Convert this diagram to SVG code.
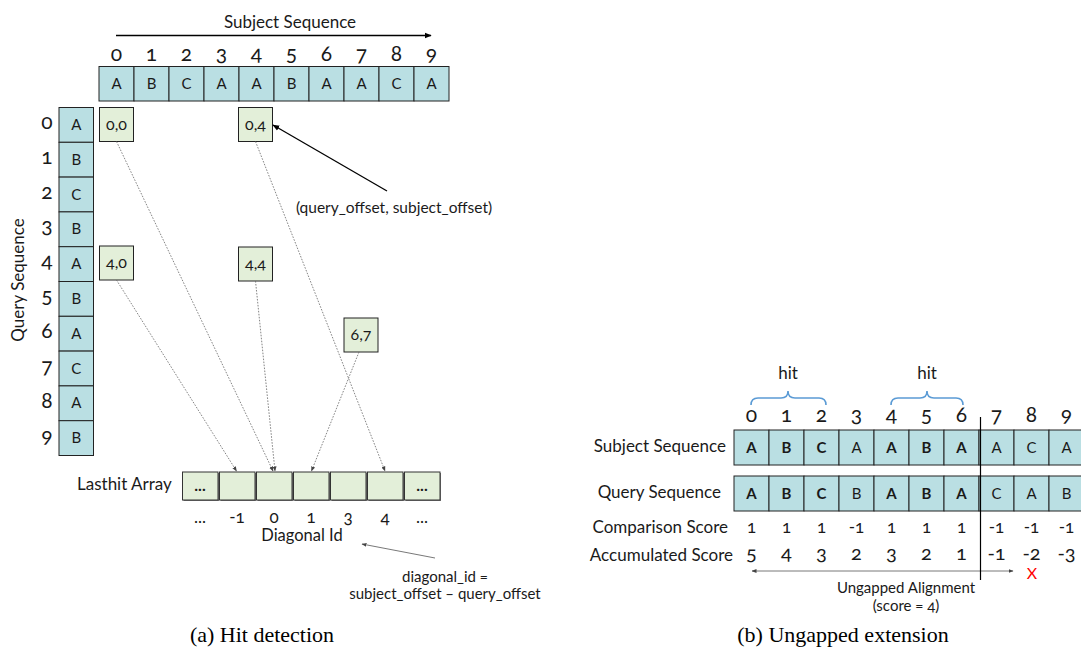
<svg xmlns="http://www.w3.org/2000/svg" width="1081" height="659" viewBox="0 0 1081 659">
  <style>
    .t { font-family: Lato, "Open Sans", "Liberation Sans", sans-serif; fill: #1a1a1a; font-variant-numeric: oldstyle-nums; }
    .cap { font-family: "Liberation Serif", "Times New Roman", serif; fill: #000; font-size: 22px; }
    .seq { fill: #badfe3; stroke: #222; stroke-width: 1; }
    .hitbox { fill: #e3efd9; stroke: #222; stroke-width: 1; }
    .cell { fill: #e3efd9; stroke: #333; stroke-width: 1; }
    .shadow { fill: #777; }
    .dot { stroke: #666; stroke-width: 0.8; stroke-dasharray: 1.6 1.4; fill: none; }
    .solid { stroke: #000; stroke-width: 1.3; fill: none; }
    .thin { stroke: #555; stroke-width: 0.8; fill: none; }
    .brace { stroke: #5b9bd5; stroke-width: 1.6; fill: none; }
  </style>
  <defs>
    <marker id="ah" viewBox="0 0 10 10" refX="9" refY="5" markerWidth="7" markerHeight="7" orient="auto-start-reverse" markerUnits="userSpaceOnUse">
      <path d="M0,1 L10,5 L0,9 Z" fill="#000"/>
    </marker>
    <marker id="ahs" viewBox="0 0 10 10" refX="9" refY="5" markerWidth="5" markerHeight="5" orient="auto-start-reverse" markerUnits="userSpaceOnUse">
      <path d="M0,1 L10,5 L0,9 Z" fill="#444"/>
    </marker>
  </defs>

  <!-- ===== (a) Hit detection ===== -->
  <g id="subject-title">
    <text class="t" x="290" y="28" font-size="17" text-anchor="middle">Subject Sequence</text>
  </g>

  <g id="subject-indices" class="t" font-size="21" text-anchor="middle">
    <text x="116.5" y="61">0</text><text x="151.5" y="61">1</text><text x="186.5" y="61">2</text>
    <text x="221.5" y="61">3</text><text x="256.5" y="61">4</text><text x="291.5" y="61">5</text>
    <text x="326.5" y="61">6</text><text x="361.5" y="61">7</text><text x="396.5" y="61">8</text>
    <text x="431.5" y="61">9</text>
  </g>

  <g id="subject-sequence">
    <rect class="seq" x="99" y="66.5" width="35" height="34.5"/>
    <rect class="seq" x="134" y="66.5" width="35" height="34.5"/>
    <rect class="seq" x="169" y="66.5" width="35" height="34.5"/>
    <rect class="seq" x="204" y="66.5" width="35" height="34.5"/>
    <rect class="seq" x="239" y="66.5" width="35" height="34.5"/>
    <rect class="seq" x="274" y="66.5" width="35" height="34.5"/>
    <rect class="seq" x="309" y="66.5" width="35" height="34.5"/>
    <rect class="seq" x="344" y="66.5" width="35" height="34.5"/>
    <rect class="seq" x="379" y="66.5" width="35" height="34.5"/>
    <rect class="seq" x="414" y="66.5" width="35" height="34.5"/>
    <g class="t" font-size="15" text-anchor="middle">
      <text x="116.5" y="89">A</text><text x="151.5" y="89">B</text><text x="186.5" y="89">C</text>
      <text x="221.5" y="89">A</text><text x="256.5" y="89">A</text><text x="291.5" y="89">B</text>
      <text x="326.5" y="89">A</text><text x="361.5" y="89">A</text><text x="396.5" y="89">C</text>
      <text x="431.5" y="89">A</text>
    </g>
  </g>

  <g id="query-title">
    <text class="t" x="0" y="0" font-size="17" text-anchor="middle" transform="translate(24,280) rotate(-90)">Query Sequence</text>
  </g>

  <g id="query-indices" class="t" font-size="21" text-anchor="middle">
    <text x="47" y="129">0</text><text x="47" y="164">1</text><text x="47" y="199">2</text>
    <text x="47" y="233">3</text><text x="47" y="268">4</text><text x="47" y="303">5</text>
    <text x="47" y="338">6</text><text x="47" y="373">7</text><text x="47" y="408">8</text>
    <text x="47" y="443">9</text>
  </g>

  <g id="query-sequence">
    <rect class="seq" x="59" y="107.5" width="34.5" height="34.8"/>
    <rect class="seq" x="59" y="142.3" width="34.5" height="34.8"/>
    <rect class="seq" x="59" y="177.1" width="34.5" height="34.8"/>
    <rect class="seq" x="59" y="211.9" width="34.5" height="34.8"/>
    <rect class="seq" x="59" y="246.7" width="34.5" height="34.8"/>
    <rect class="seq" x="59" y="281.5" width="34.5" height="34.8"/>
    <rect class="seq" x="59" y="316.3" width="34.5" height="34.8"/>
    <rect class="seq" x="59" y="351.1" width="34.5" height="34.8"/>
    <rect class="seq" x="59" y="385.9" width="34.5" height="34.8"/>
    <rect class="seq" x="59" y="420.7" width="34.5" height="34.8"/>
    <g class="t" font-size="15" text-anchor="middle">
      <text x="76.3" y="130">A</text><text x="76.3" y="164.8">B</text><text x="76.3" y="199.6">C</text>
      <text x="76.3" y="234.4">B</text><text x="76.3" y="269.2">A</text><text x="76.3" y="304">B</text>
      <text x="76.3" y="338.8">A</text><text x="76.3" y="373.6">C</text><text x="76.3" y="408.4">A</text>
      <text x="76.3" y="443.2">B</text>
    </g>
  </g>

  <!-- hit positions (query_offset, subject_offset) -->
  <g id="hit-0-0">
    <rect class="hitbox" x="99.5" y="107.5" width="34" height="34"/>
    <text class="t" x="116.5" y="129.5" font-size="16" text-anchor="middle">0,0</text>
  </g>
  <g id="hit-0-4">
    <rect class="hitbox" x="238.5" y="107.5" width="34" height="34"/>
    <text class="t" x="255.5" y="129.5" font-size="16" text-anchor="middle">0,4</text>
  </g>
  <g id="hit-4-0">
    <rect class="hitbox" x="99.5" y="246" width="34" height="34"/>
    <text class="t" x="116.5" y="268" font-size="16" text-anchor="middle">4,0</text>
  </g>
  <g id="hit-4-4">
    <rect class="hitbox" x="238.5" y="247" width="34" height="34"/>
    <text class="t" x="255.5" y="269" font-size="16" text-anchor="middle">4,4</text>
  </g>
  <g id="hit-6-7">
    <rect class="hitbox" x="344" y="318" width="34" height="34"/>
    <text class="t" x="361" y="340" font-size="16" text-anchor="middle">6,7</text>
  </g>

  <g id="offset-note">
    <text class="t" x="394" y="213" font-size="15.5" text-anchor="middle">(query_offset, subject_offset)</text>
  </g>

  <g id="lasthit-label">
    <text class="t" x="77" y="490" font-size="17">Lasthit Array</text>
  </g>

  <g id="lasthit-array">
    <rect class="shadow" x="183.5" y="473" width="35.5" height="28"/>
    <rect class="shadow" x="220.5" y="473" width="35.5" height="28"/>
    <rect class="shadow" x="257.5" y="473" width="35.5" height="28"/>
    <rect class="shadow" x="294.5" y="473" width="35.5" height="28"/>
    <rect class="shadow" x="331.5" y="473" width="35.5" height="28"/>
    <rect class="shadow" x="368.5" y="473" width="35.5" height="28"/>
    <rect class="shadow" x="405.5" y="473" width="35.5" height="28"/>
    <rect class="cell" x="182.5" y="472" width="35.5" height="28"/>
    <rect class="cell" x="219.5" y="472" width="35.5" height="28"/>
    <rect class="cell" x="256.5" y="472" width="35.5" height="28"/>
    <rect class="cell" x="293.5" y="472" width="35.5" height="28"/>
    <rect class="cell" x="330.5" y="472" width="35.5" height="28"/>
    <rect class="cell" x="367.5" y="472" width="35.5" height="28"/>
    <rect class="cell" x="404.5" y="472" width="35.5" height="28"/>
    <g class="t" font-size="16" text-anchor="middle" font-weight="bold">
      <text x="200" y="491">...</text>
      <text x="422" y="491">...</text>
    </g>
  </g>

  <g id="diagonal-ids" class="t" font-size="17" text-anchor="middle">
    <text x="200" y="523">...</text>
    <text x="237" y="523">-1</text>
    <text x="274" y="523">0</text>
    <text x="311" y="523">1</text>
    <text x="348" y="523">3</text>
    <text x="385" y="523">4</text>
    <text x="422" y="523">...</text>
    <text x="302" y="541" font-size="16.5">Diagonal Id</text>
  </g>

  <g id="diagonal-formula" class="t" font-size="15" text-anchor="middle">
    <text x="445" y="582">diagonal_id =</text>
    <text x="445" y="599">subject_offset – query_offset</text>
  </g>

  <!-- ===== (b) Ungapped extension ===== -->
  <g id="hit-braces">
    <path class="brace" d="M751,405 Q751,398 758,398 L781,398 Q788,398 788,391 Q788,398 795,398 L819,398 Q826,398 826,405"/>
    <path class="brace" d="M891,405 Q891,398 898,398 L920,398 Q927,398 927,391 Q927,398 934,398 L956,398 Q963,398 963,405"/>
    <g class="t" font-size="17" text-anchor="middle">
      <text x="788" y="379">hit</text>
      <text x="927" y="379">hit</text>
    </g>
  </g>

  <g id="ext-indices" class="t" font-size="21" text-anchor="middle">
    <text x="751.5" y="422">0</text><text x="786.5" y="422">1</text><text x="821.5" y="422">2</text>
    <text x="856.5" y="422">3</text><text x="891.5" y="422">4</text><text x="926.5" y="422">5</text>
    <text x="961.5" y="422">6</text><text x="996.5" y="422">7</text><text x="1031.5" y="422">8</text>
    <text x="1066.5" y="422">9</text>
  </g>

  <g id="ext-subject">
    <text class="t" x="726" y="452" font-size="17" text-anchor="end">Subject Sequence</text>
    <rect class="seq" x="734" y="430" width="35" height="35"/>
    <rect class="seq" x="769" y="430" width="35" height="35"/>
    <rect class="seq" x="804" y="430" width="35" height="35"/>
    <rect class="seq" x="839" y="430" width="35" height="35"/>
    <rect class="seq" x="874" y="430" width="35" height="35"/>
    <rect class="seq" x="909" y="430" width="35" height="35"/>
    <rect class="seq" x="944" y="430" width="35" height="35"/>
    <rect class="seq" x="979" y="430" width="35" height="35"/>
    <rect class="seq" x="1014" y="430" width="35" height="35"/>
    <rect class="seq" x="1049" y="430" width="35" height="35"/>
    <g class="t" font-size="15" text-anchor="middle">
      <text x="751.5" y="452.5" font-weight="bold">A</text><text x="786.5" y="452.5" font-weight="bold">B</text>
      <text x="821.5" y="452.5" font-weight="bold">C</text><text x="856.5" y="452.5">A</text>
      <text x="891.5" y="452.5" font-weight="bold">A</text><text x="926.5" y="452.5" font-weight="bold">B</text>
      <text x="961.5" y="452.5" font-weight="bold">A</text><text x="996.5" y="452.5">A</text>
      <text x="1031.5" y="452.5">C</text><text x="1066.5" y="452.5">A</text>
    </g>
  </g>

  <g id="ext-query">
    <text class="t" x="721" y="498" font-size="17" text-anchor="end">Query Sequence</text>
    <rect class="seq" x="734" y="476" width="35" height="35"/>
    <rect class="seq" x="769" y="476" width="35" height="35"/>
    <rect class="seq" x="804" y="476" width="35" height="35"/>
    <rect class="seq" x="839" y="476" width="35" height="35"/>
    <rect class="seq" x="874" y="476" width="35" height="35"/>
    <rect class="seq" x="909" y="476" width="35" height="35"/>
    <rect class="seq" x="944" y="476" width="35" height="35"/>
    <rect class="seq" x="979" y="476" width="35" height="35"/>
    <rect class="seq" x="1014" y="476" width="35" height="35"/>
    <rect class="seq" x="1049" y="476" width="35" height="35"/>
    <g class="t" font-size="15" text-anchor="middle">
      <text x="751.5" y="498.5" font-weight="bold">A</text><text x="786.5" y="498.5" font-weight="bold">B</text>
      <text x="821.5" y="498.5" font-weight="bold">C</text><text x="856.5" y="498.5">B</text>
      <text x="891.5" y="498.5" font-weight="bold">A</text><text x="926.5" y="498.5" font-weight="bold">B</text>
      <text x="961.5" y="498.5" font-weight="bold">A</text><text x="996.5" y="498.5">C</text>
      <text x="1031.5" y="498.5">A</text><text x="1066.5" y="498.5">B</text>
    </g>
  </g>

  <g id="comparison-score" class="t" font-size="17" text-anchor="middle">
    <text x="728" y="533" text-anchor="end">Comparison Score</text>
    <text x="751.5" y="533">1</text><text x="786.5" y="533">1</text><text x="821.5" y="533">1</text>
    <text x="856.5" y="533">-1</text><text x="891.5" y="533">1</text><text x="926.5" y="533">1</text>
    <text x="961.5" y="533">1</text><text x="996.5" y="533">-1</text><text x="1031.5" y="533">-1</text>
    <text x="1066.5" y="533">-1</text>
  </g>

  <g id="accumulated-score" class="t" text-anchor="middle">
    <text x="733" y="561" font-size="17" text-anchor="end">Accumulated Score</text>
    <g font-size="20">
      <text x="751.5" y="560">5</text><text x="786.5" y="560">4</text><text x="821.5" y="560">3</text>
      <text x="856.5" y="560">2</text><text x="891.5" y="560">3</text><text x="926.5" y="560">2</text>
      <text x="961.5" y="560">1</text><text x="996.5" y="560">-1</text><text x="1031.5" y="560">-2</text>
      <text x="1066.5" y="560">-3</text>
    </g>
  </g>

  <g id="drop-mark">
    <text x="1032" y="579" font-family="Lato, 'Liberation Sans', sans-serif" font-size="16" fill="#ff0000" text-anchor="middle">X</text>
  </g>

  <g id="alignment-label" class="t" font-size="15" text-anchor="middle">
    <text x="906" y="593">Ungapped Alignment</text>
    <text x="906" y="611">(score = 4)</text>
  </g>

  <!-- connectors -->
  <g id="connectors">
    <line class="solid" x1="116" y1="35.5" x2="431" y2="35.5" marker-end="url(#ah)"/>
    <line class="solid" x1="387" y1="191" x2="273" y2="125" marker-end="url(#ah)"/>
    <line class="dot" x1="116.5" y1="141.5" x2="273" y2="471" marker-end="url(#ahs)"/>
    <line class="dot" x1="116.5" y1="280" x2="236.5" y2="471" marker-end="url(#ahs)"/>
    <line class="dot" x1="255.5" y1="281" x2="275" y2="471" marker-end="url(#ahs)"/>
    <line class="dot" x1="359" y1="352" x2="311.5" y2="471" marker-end="url(#ahs)"/>
    <line class="dot" x1="255.5" y1="141.5" x2="385" y2="471" marker-end="url(#ahs)"/>
    <line class="thin" x1="435" y1="558" x2="362" y2="544" marker-end="url(#ahs)"/>
    <line class="thin" x1="752" y1="571" x2="1013" y2="571" marker-start="url(#ahs)" marker-end="url(#ahs)"/>
    <line stroke="#000" stroke-width="1.2" x1="980.5" y1="417" x2="980.5" y2="580"/>
  </g>

  <g id="captions">
    <text class="cap" x="262" y="642" text-anchor="middle">(a)  Hit detection</text>
    <text class="cap" x="843" y="642" text-anchor="middle">(b)  Ungapped extension</text>
  </g>
</svg>
